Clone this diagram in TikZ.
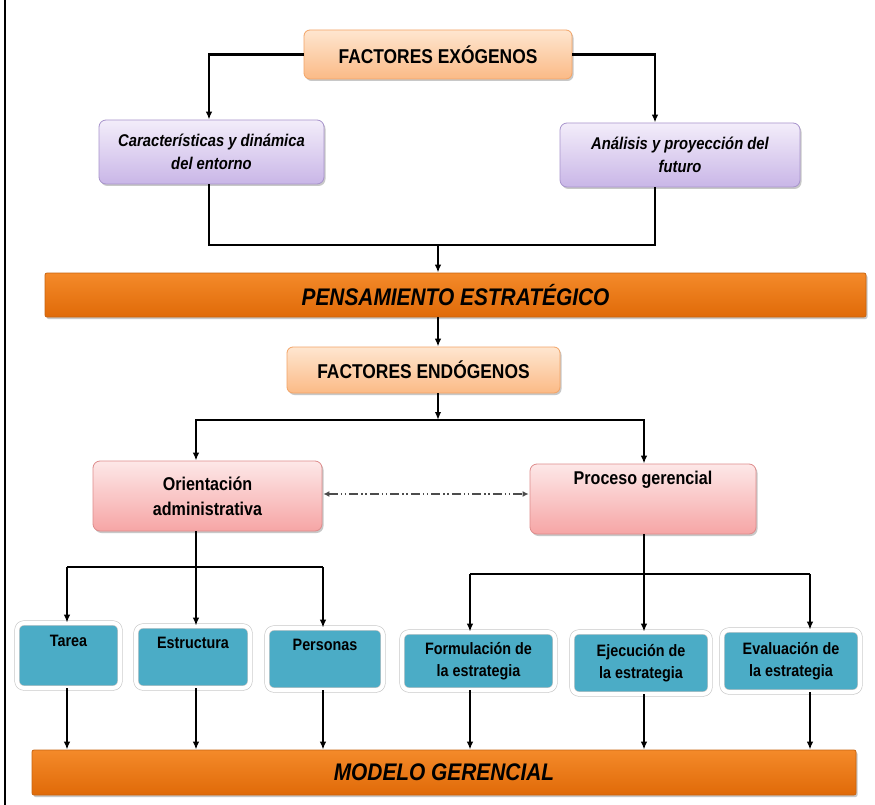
\documentclass[tikz,border=0pt]{standalone}
\usepackage{fontspec}
\setmainfont{Liberation Sans}[FakeStretch=0.87]
\usetikzlibrary{arrows.meta,shadows,calc}
\definecolor{exoT}{HTML}{FEE6D0}
\definecolor{exoB}{HTML}{FBBA86}
\definecolor{exoD}{HTML}{F3A466}
\definecolor{purT}{HTML}{F3EDFA}
\definecolor{purB}{HTML}{C9B6E7}
\definecolor{purD}{HTML}{A894CC}
\definecolor{pinT}{HTML}{FDE8E8}
\definecolor{pinB}{HTML}{F6A5A5}
\definecolor{pinD}{HTML}{DE8C8C}
\definecolor{tealc}{HTML}{4BACC6}
\definecolor{barT}{HTML}{F48A2A}
\definecolor{barB}{HTML}{E06A08}
\definecolor{barD}{HTML}{C86410}
\tikzset{
  shad/.style={drop shadow={shadow xshift=1.5pt, shadow yshift=-2pt, opacity=0.3, fill=black!70}},
  exobox/.style={shad, rounded corners=6pt, align=center, top color=exoT, bottom color=exoB, draw=exoD, line width=0.8pt, font=\fontsize{20}{24}\selectfont\bfseries},
  purbox/.style={shad, rounded corners=7pt, align=center, top color=purT, bottom color=purB, draw=purD, line width=0.8pt, font=\fontsize{17}{23}\selectfont\bfseries\itshape},
  pinbox/.style={shad, rounded corners=7pt, align=center, top color=pinT, bottom color=pinB, draw=pinD, line width=0.8pt, font=\fontsize{18.5}{25}\selectfont\bfseries},
  tealbox/.style={shad, rounded corners=7pt, align=center, fill=tealc, draw=black!22, double=white, double distance=4pt, line width=0.6pt, font=\fontsize{16.5}{22}\selectfont\bfseries},
  barbox/.style={shad, rounded corners=2pt, align=center, top color=barT, bottom color=barB, draw=barD, line width=0.8pt, font=\fontsize{24}{28}\selectfont\bfseries\itshape},
  conn/.style={line width=2.2pt},
  arr/.style={line width=2.2pt, -{Latex[length=8pt,width=6.5pt]}},
  dotarr/.style={line width=1.6pt, black!70, dash pattern=on 9pt off 3pt on 1.5pt off 2.5pt on 1.5pt off 3pt, {Latex[length=6pt,width=6pt]}-{Latex[length=6pt,width=6pt]}}
}
\begin{document}
\begin{tikzpicture}[x=1pt,y=-1pt]
\useasboundingbox (0,0) rectangle (875,805);
\fill[white] (0,0) rectangle (875,805);
\coordinate (bt) at (5,0);
\coordinate (bb) at (5,805);
\draw[line width=1.6pt] (bt) -- (bb);

% nodes
\node[exobox, minimum width=268pt, minimum height=49pt] (exo) at (438,54.5) {FACTORES EXÓGENOS};
\node[purbox, minimum width=225pt, minimum height=64pt] (car) at (211.5,152) {Características y dinámica\\del entorno};
\node[purbox, minimum width=240pt, minimum height=64pt] (ana) at (680,155) {Análisis y proyección del\\futuro};
\node[barbox, minimum width=821pt, minimum height=44pt] (pens) at (455.5,295) {PENSAMIENTO ESTRATÉGICO};
\node[exobox, minimum width=273pt, minimum height=46pt] (endo) at (423.5,370) {FACTORES ENDÓGENOS};
\node[pinbox, minimum width=229pt, minimum height=70pt] (ori) at (207.5,496) {Orientación\\administrativa};
\node[pinbox, minimum width=226pt, minimum height=70pt] (proc) at (643,499) {Proceso gerencial\\[10pt]\strut};
\node[tealbox, minimum width=103pt, minimum height=65pt] (tarea) at (68.5,655.5) {Tarea\\\strut};
\node[tealbox, minimum width=114pt, minimum height=62pt] (estr) at (193,657) {Estructura\\\strut};
\node[tealbox, minimum width=116pt, minimum height=62pt] (pers) at (325,659) {Personas\\\strut};
\node[tealbox, minimum width=153pt, minimum height=58pt] (form) at (478.5,661) {Formulación de\\la estrategia};
\node[tealbox, minimum width=138pt, minimum height=62pt] (ejec) at (641,663) {Ejecución de\\la estrategia};
\node[tealbox, minimum width=138pt, minimum height=62pt] (eval) at (791,661) {Evaluación de\\la estrategia};
\node[barbox, minimum width=824pt, minimum height=45pt] (modelo) at (444,772.5) {MODELO GERENCIAL};

% column coordinates
\coordinate (cA) at (209,0);
\coordinate (cB) at (655,0);
\coordinate (j1) at (438,245);
\coordinate (j2) at (438,420);
\coordinate (c1) at (67,567);
\coordinate (c2) at (196,567);
\coordinate (c3) at (323,567);
\coordinate (c4) at (470,574);
\coordinate (c5) at (644,574);
\coordinate (c6) at (810,574);
\coordinate (dy) at (0,494);

% exogenous part
\draw[arr] (exo.west) -| (car.north -| cA);
\draw[arr] (exo.east) -| (ana.north -| cB);
\draw[conn] (car.south -| cA) |- (j1) -| (ana.south -| cB);
\draw[arr] (j1) -- (pens.north -| j1);
\draw[arr] (pens.south -| j1) -- (endo.north -| j1);

% endogenous part
\draw[arr] (endo.south -| j2) -- (j2);
\draw[arr] (j2) -| (ori.north -| c2);
\draw[arr] (j2) -| (proc.north -| c5);
\draw[dotarr, shorten <=1pt, shorten >=1pt] (ori.east |- dy) -- (proc.west |- dy);

% children of orientacion
\draw[conn] (ori.south -| c2) -- (c2);
\draw[conn] (c1) -- (c3);
\draw[arr] (c1) -- (tarea.north -| c1);
\draw[arr] (c2) -- (estr.north -| c2);
\draw[arr] (c3) -- (pers.north -| c3);

% children of proceso
\draw[conn] (proc.south -| c5) -- (c5);
\draw[conn] (c4) -- (c6);
\draw[arr] (c4) -- (form.north -| c4);
\draw[arr] (c5) -- (ejec.north -| c5);
\draw[arr] (c6) -- (eval.north -| c6);

% to modelo
\draw[arr] (tarea.south -| c1) -- (modelo.north -| c1);
\draw[arr] (estr.south -| c2) -- (modelo.north -| c2);
\draw[arr] (pers.south -| c3) -- (modelo.north -| c3);
\draw[arr] (form.south -| c4) -- (modelo.north -| c4);
\draw[arr] (ejec.south -| c5) -- (modelo.north -| c5);
\draw[arr] (eval.south -| c6) -- (modelo.north -| c6);
\end{tikzpicture}
\end{document}
